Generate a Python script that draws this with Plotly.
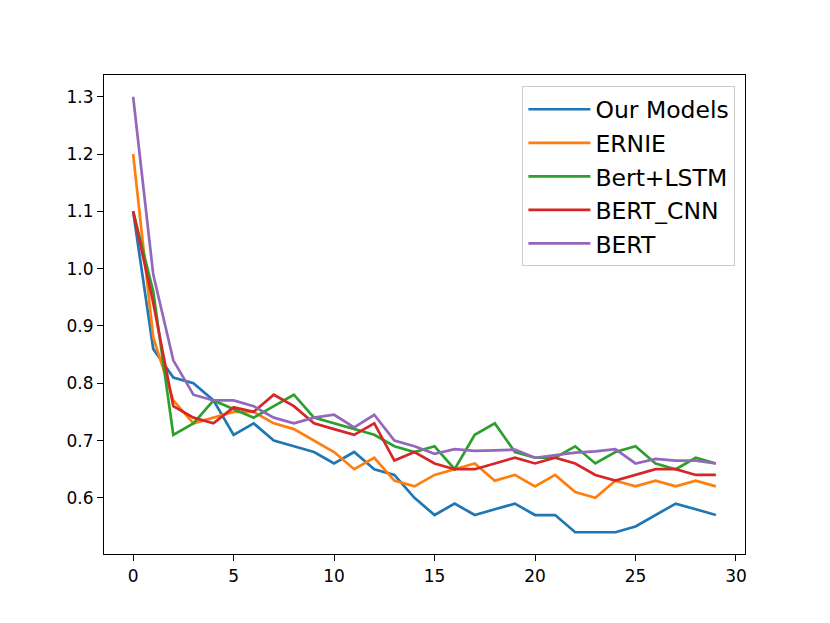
import plotly.graph_objects as go

epochs = list(range(30))
series_names = ["Our Models", "ERNIE", "Bert+LSTM", "BERT_CNN", "BERT"]

our_models = [1.1, 0.86, 0.81, 0.80, 0.77, 0.71, 0.73, 0.70, 0.69, 0.68, 0.66, 0.68, 0.65, 0.64, 0.60,
              0.57, 0.59, 0.57, 0.58, 0.59, 0.57, 0.57, 0.54, 0.54, 0.54, 0.55, 0.57, 0.59, 0.58, 0.57]
ernie = [1.2, 0.88, 0.77, 0.73, 0.74, 0.75, 0.75, 0.73, 0.72, 0.70, 0.68, 0.65, 0.67, 0.63, 0.62,
         0.64, 0.65, 0.66, 0.63, 0.64, 0.62, 0.64, 0.61, 0.60, 0.63, 0.62, 0.63, 0.62, 0.63, 0.62]
bert_lstm = [1.1, 0.96, 0.71, 0.73, 0.77, 0.755, 0.74, 0.76, 0.78, 0.74, 0.73, 0.72, 0.71, 0.69, 0.68,
             0.69, 0.65, 0.71, 0.73, 0.68, 0.67, 0.67, 0.69, 0.66, 0.68, 0.69, 0.66, 0.65, 0.67, 0.66]
bert_cnn = [1.1, 0.94, 0.76, 0.74, 0.73, 0.758, 0.75, 0.78, 0.76, 0.73, 0.72, 0.71, 0.73, 0.665, 0.68,
            0.66, 0.65, 0.65, 0.66, 0.67, 0.66, 0.67, 0.66, 0.64, 0.63, 0.64, 0.65, 0.65, 0.64, 0.64]
bert = [1.3, 0.99, 0.84, 0.78, 0.77, 0.77, 0.76, 0.74, 0.73, 0.74, 0.745, 0.723, 0.745, 0.70, 0.69,
        0.677, 0.685, 0.682, 0.683, 0.684, 0.67, 0.675, 0.679, 0.681, 0.685, 0.66, 0.668, 0.665, 0.665, 0.66]

all_series = [our_models, ernie, bert_lstm, bert_cnn, bert]
colors = ["#1f77b4", "#ff7f0e", "#2ca02c", "#d62728", "#9467bd"]

fig = go.Figure()
for i, (name, vals, c) in enumerate(zip(series_names, all_series, colors)):
    fig.add_trace(go.Scatter(x=epochs, y=vals, mode="lines", name=name,
                             line=dict(color=c, width=2.7)))

axis_common = dict(showline=True, linecolor="black", linewidth=1.2, mirror=True,
                   ticks="outside", ticklen=6, tickwidth=1.2, tickcolor="black",
                   showgrid=False, zeroline=False,
                   tickfont=dict(family="DejaVu Sans", size=17, color="black"))

fig.update_layout(
    width=830, height=623,
    margin=dict(l=96, r=93, t=67, b=77),
    paper_bgcolor="white", plot_bgcolor="white",
    font=dict(family="DejaVu Sans", color="black"),
    xaxis=dict(range=[-1.45, 30.45], tickvals=[0, 5, 10, 15, 20, 25, 30], **axis_common),
    yaxis=dict(range=[0.502, 1.338], tickvals=[0.6, 0.7, 0.8, 0.9, 1.0, 1.1, 1.2, 1.3],
               ticktext=["0.6", "0.7", "0.8", "0.9", "1.0", "1.1", "1.2", "1.3"], **axis_common),
    legend=dict(x=0.985, y=0.976, xanchor="right", yanchor="top",
                bgcolor="rgba(255,255,255,0.8)", bordercolor="#cccccc", borderwidth=1,
                font=dict(family="DejaVu Sans", size=23.5, color="black"),
                itemwidth=62),
    showlegend=True,
)

fig.write_html("out.html")
